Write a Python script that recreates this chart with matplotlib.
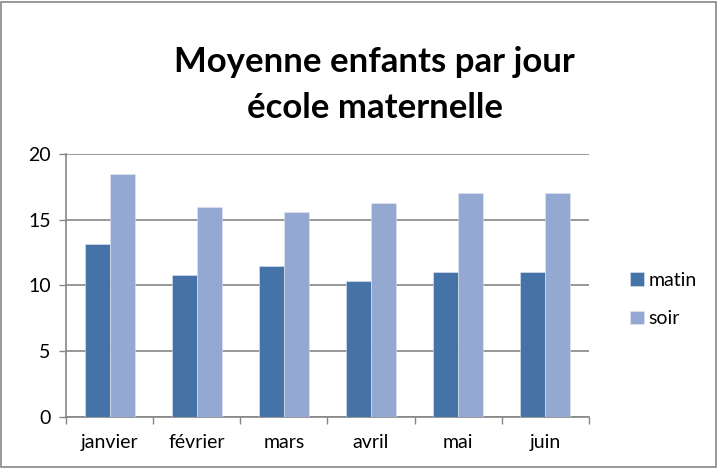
import matplotlib
matplotlib.use("Agg")
import matplotlib.pyplot as plt
from matplotlib.patches import Rectangle
import numpy as np

months = ["janvier", "février", "mars", "avril", "mai", "juin"]
matin = [13.15, 10.8, 11.5, 10.35, 11.0, 11.0]
soir = [18.45, 16.0, 15.6, 16.25, 17.0, 17.0]
yticks = [0, 5, 10, 15, 20]

plt.rcParams["font.family"] = ["Lato", "DejaVu Sans"]

fig = plt.figure(figsize=(7.18, 4.68), dpi=100)
ax = fig.add_axes([0.092, 0.109, 0.728, 0.562])

x = np.arange(len(months))
w = 0.2857
ax.bar(x - w / 2, matin, w, color="#4572A7", edgecolor="#dfe6f0", linewidth=0.4, label="matin", zorder=3)
ax.bar(x + w / 2, soir, w, color="#94A9D1", edgecolor="#dfe6f0", linewidth=0.4, label="soir", zorder=3)

ax.set_xlim(-0.5, len(months) - 0.5)
ax.set_ylim(0, 20)
ax.set_yticks(yticks)
ax.set_yticklabels([str(v) for v in yticks], fontsize=14)
ax.yaxis.grid(True, color="#868686", linewidth=1.2, zorder=0)
ax.set_xticks(x)
ax.set_xticklabels(months, fontsize=14)
ax.set_xticks(np.arange(-0.5, len(months)), minor=True)
ax.tick_params(axis="x", which="major", length=0, pad=12)
ax.tick_params(axis="x", which="minor", length=5, color="#868686", width=1)
ax.tick_params(axis="y", length=5, color="#868686", width=1, pad=6)
for side in ["top", "right"]:
    ax.spines[side].set_visible(False)
for side in ["left", "bottom"]:
    ax.spines[side].set_color("#868686")
    ax.spines[side].set_linewidth(1.2)

fig.text(0.522, 0.867, "Moyenne enfants par jour", ha="center", va="center",
         fontsize=25, fontweight="bold")
fig.text(0.522, 0.769, "école maternelle", ha="center", va="center",
         fontsize=25, fontweight="bold")

fig.legend(loc="center left", bbox_to_anchor=(0.853, 0.36), frameon=False,
           fontsize=14, handlelength=0.7, handleheight=0.7,
           handletextpad=0.25, labelspacing=1.1)

fig.patches.append(Rectangle((0.002, 0.003), 0.995, 0.993, transform=fig.transFigure,
                             fill=False, edgecolor="#868686", linewidth=1.2))

fig.savefig("out.png", dpi=100)
